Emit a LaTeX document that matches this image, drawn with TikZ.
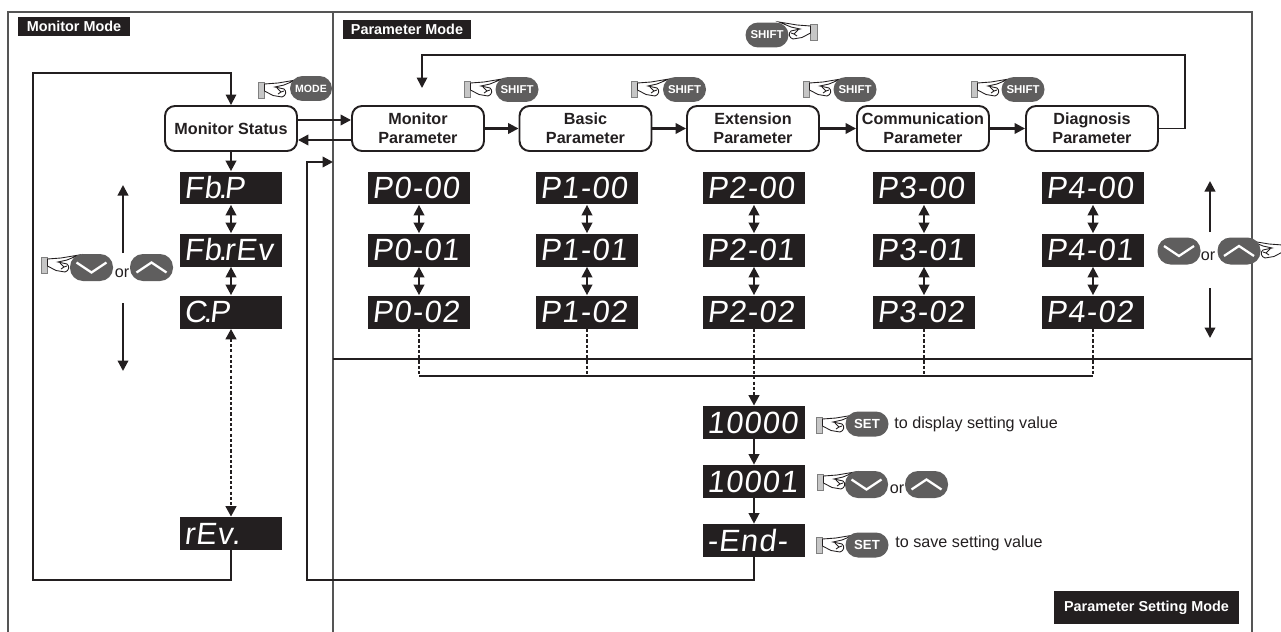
\documentclass[tikz,border=0pt]{standalone}
\usepackage{fontspec}
\setmainfont{Liberation Sans}
\newfontfamily\ledfont[FakeSlant=0.12,LetterSpace=4]{Liberation Sans}
\usetikzlibrary{arrows.meta}
\definecolor{ink}{HTML}{231F20}
\definecolor{keygray}{HTML}{5F5E5E}
\definecolor{framegray}{HTML}{555555}
\newcommand{\ld}{\kern-.09em.\kern-.09em}
\tikzset{
  >={Triangle[length=2.1mm,width=2.1mm]},
  frameline/.style={draw=framegray, line width=0.7pt},
  link/.style={draw=ink, line width=1.25pt},
  loopline/.style={draw=ink, line width=1pt},
  dots/.style={draw=ink, line width=1.5pt, dash pattern=on 1.8pt off 1.2pt},
  led/.style={fill=ink, text=white, minimum width=2.04cm, minimum height=.66cm, inner sep=0pt,
    text width=1.88cm, align=left, font=\ledfont\fontsize{17.5}{17.5}\selectfont},
  stat/.style={draw=ink, line width=1.1pt, fill=white, rounded corners=.2cm, minimum width=2.64cm, minimum height=.9cm,
    inner sep=0pt, align=center, text=ink, font=\bfseries\fontsize{9.2}{10.8}\selectfont},
  tag/.style={fill=ink, text=white, inner sep=0pt, font=\bfseries\fontsize{8.2}{10}\selectfont},
  key/.style={fill=keygray, text=white, rounded corners=.25cm, minimum width=.86cm, minimum height=.5cm,
    inner sep=0pt, font=\bfseries\fontsize{6.5}{8}\selectfont},
  note/.style={anchor=west, inner sep=0pt, text=ink, font=\fontsize{9.2}{11}\selectfont},
  pics/hand/.style={code={
    \draw[draw=gray, fill=gray!45, line width=.4pt] (0,0) rectangle (6.5,16);
    \draw[ink, fill=white, line width=.5pt] (6.5,2) -- (20,1) -- (38,-2) -- (26,3) -- (17,5) -- (26,7)
      .. controls (29,9) and (28,14) .. (24,15) -- (15,13.5) -- (6.5,9) -- cycle;
    \draw[ink, line width=.5pt] (19,6) -- (23,10) -- (20,12) (23,10) -- (26,9);
  }},
  pics/dnkey/.style={code={
    \fill[keygray, rounded corners=.26cm] (-21.5,-13.5) rectangle (21.5,13.5);
    \draw[white, line width=1.3pt] (-15,-5) -- (0,5) -- (15,-5);
  }},
  pics/upkey/.style={code={
    \fill[keygray, rounded corners=.26cm] (-21.5,-13.5) rectangle (21.5,13.5);
    \draw[white, line width=1.3pt] (-15,5) -- (0,-5) -- (15,5);
  }},
}
\begin{document}
\begin{tikzpicture}[x=0.02cm, y=-0.02cm]
  \useasboundingbox (0,0) rectangle (1281,632);

  % frames of the three modes
  \draw[frameline] (8,632) -- (8,12) -- (1252,12) -- (1252,632);
  \draw[frameline] (333,12) -- (333,632);
  \draw[ink, line width=.6pt] (333,359) -- (1252,359);

  \node[tag, minimum width=2.24cm, minimum height=.38cm] (montag) at (74,26.5) {Monitor Mode};
  \node[tag, minimum width=2.56cm, minimum height=.38cm] (partag) at (407,29.5) {Parameter Mode};
  \node[tag, minimum width=3.7cm, minimum height=.66cm] (settag) at (1146.5,607.5) {\raisebox{-1.5pt}{Parameter Setting Mode}};

  % status boxes
  \node[stat] (ms) at (231,128.5) {Monitor Status};
  \node[stat] (mp) at (418,128.5) {Monitor\\Parameter};
  \node[stat] (bp) at (585.5,128.5) {Basic\\Parameter};
  \node[stat] (ep) at (753,128.5) {Extension\\Parameter};
  \node[stat] (cp) at (923,128.5) {Communication\\Parameter};
  \node[stat] (dp) at (1092,128.5) {Diagnosis\\Parameter};

  % monitor column
  \node[led] (fbp) at (231,188) {Fb\ld P};
  \node[led] (fbr) at (231,250) {Fb\ld rEv};
  \node[led] (cpp) at (231,312) {C\ld P};
  \node[led] (rev) at (231,533.5) {rEv.};

  % parameter columns
  \foreach \c/\x in {0/419,1/587,2/754,3/924,4/1093} {
    \node[led] (p\c a) at (\x,188) {P\c-00};
    \node[led] (p\c b) at (\x,250) {P\c-01};
    \node[led] (p\c c) at (\x,312) {P\c-02};
    \draw[link,<->] (p\c a) -- (p\c b);
    \draw[link,<->] (p\c b) -- (p\c c);
  }

  % setting column
  \node[led] (sa) at (754,422.5) {10000};
  \node[led] (sb) at (754,481.5) {10001};
  \node[led] (sc) at (754,540.5) {-End-};

  % connectors
  \coordinate (lpb) at (33,580);
  \coordinate (lpt) at (33,73);
  \coordinate (rtb) at (307,580);
  \coordinate (rtt) at (307,162);
  \coordinate (rte) at (333,162);
  \coordinate (tpr) at (1185,55);
  \coordinate (tpe) at (422,88);
  \coordinate (bus) at (420,376);

  \draw[loopline,->] (rev.south) -- (rev.south |- lpb) -- (lpb) -- (lpt) -- (ms.north |- lpt) -- (ms.north);
  \draw[link,->] (sc.south) -- (sc.south |- rtb) -- (rtb) -- (rtt) -- (rte);
  \draw[loopline,->] (dp.east) -| (tpr) -- (tpe |- tpr) -- (tpe);
  \draw[link,->] ([yshift=.17cm]ms.east) -- ([yshift=.17cm]mp.west);
  \draw[link,<-] ([yshift=-.23cm]ms.east) -- ([yshift=-.23cm]mp.west);
  \draw[link,->] (mp) -- (bp);
  \draw[link,->] (bp) -- (ep);
  \draw[link,->] (ep) -- (cp);
  \draw[link,->] (cp) -- (dp);
  \draw[link,->] (ms) -- (fbp);
  \draw[link,<->] (fbp) -- (fbr);
  \draw[link,<->] (fbr) -- (cpp);
  \draw[dots,<->] (cpp) -- (rev);
  \foreach \c in {0,1,3,4} \draw[dots] (p\c c) -- (p\c c |- bus);
  \draw[dots,->] (p2c) -- (sa);
  \draw[link] (p0c |- bus) -- (p4c |- bus);
  \draw[link,->] (sa) -- (sb);
  \draw[link,->] (sb) -- (sc);

  % side arrows
  \coordinate (lua) at (123,253);
  \coordinate (lub) at (123,185);
  \coordinate (lda) at (123,303);
  \coordinate (ldb) at (123,371);
  \coordinate (rua) at (1210,232);
  \coordinate (rub) at (1210,181);
  \coordinate (rda) at (1210,288);
  \coordinate (rdb) at (1210,338);
  \draw[link,->] (lua) -- (lub);
  \draw[link,->] (lda) -- (ldb);
  \draw[link,->] (rua) -- (rub);
  \draw[link,->] (rda) -- (rdb);

  % pressing hands
  \foreach \x/\y in {258/82,464/81,631/81,803/81,971/81,41/257,816/417,817/474,816/537}
    \pic at (\x,\y) {hand};
  \pic[xscale=-1] at (817,24) {hand};
  \pic[xscale=-1] at (1289,243) {hand};

  % keys
  \node[key, minimum width=.84cm, font=\bfseries\fontsize{6}{8}\selectfont] (kmode) at (311,88.5) {MODE};
  \node[key] (kshifta) at (517,89.5) {SHIFT};
  \node[key] (kshiftb) at (684.5,89.5) {SHIFT};
  \node[key] (kshiftc) at (855,89.5) {SHIFT};
  \node[key] (kshiftd) at (1023,89.5) {SHIFT};
  \node[key] (kshifte) at (767,35) {SHIFT};
  \node[key, font=\bfseries\fontsize{7.5}{9}\selectfont] (kseta) at (867,424) {SET};
  \node[key, font=\bfseries\fontsize{7.5}{9}\selectfont] (ksetb) at (867,545) {SET};

  \pic at (91.5,267.5) {dnkey};
  \pic at (151.5,267.5) {upkey};
  \pic at (1179,251) {dnkey};
  \pic at (1239,251) {upkey};
  \pic at (866.5,484.5) {dnkey};
  \pic at (926.5,484.5) {upkey};

  \node[note, anchor=center] (orl) at (122,273) {or};
  \node[note, anchor=center] (orr) at (1208,256) {or};
  \node[note, anchor=center] (ors) at (897,489) {or};

  \node[note] (notea) at (894,424) {to display setting value};
  \node[note] (noteb) at (895,543.5) {to save setting value};
\end{tikzpicture}
\end{document}
